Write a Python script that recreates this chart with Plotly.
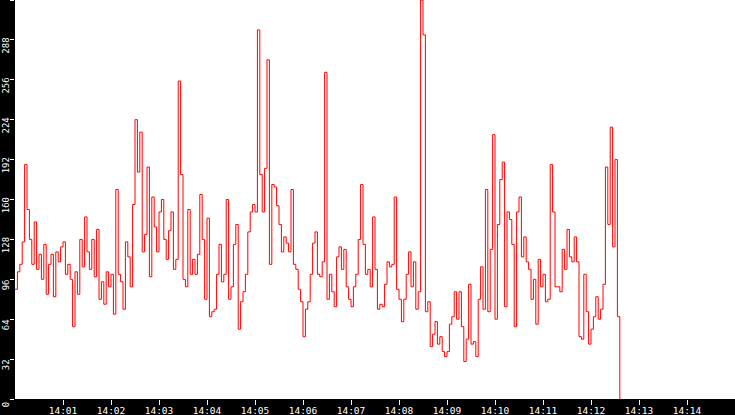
import numpy as np
import pandas as pd
import plotly.graph_objects as go

# one sample every 3 s, starting 14:00:00; one list per minute
m00 = [88, 102, 108, 126, 188, 152, 128, 108, 142, 104, 116, 96, 124, 84, 108, 116, 82, 118, 110, 122]
m01 = [126, 100, 108, 96, 58, 102, 84, 128, 106, 146, 118, 104, 128, 98, 136, 80, 94, 76, 102, 90]
m02 = [100, 68, 168, 100, 94, 72, 126, 114, 90, 156, 224, 182, 214, 118, 132, 186, 98, 162, 138, 118]
m03 = [150, 160, 128, 112, 135, 150, 104, 112, 255, 180, 96, 90, 152, 100, 112, 100, 116, 164, 128, 80]
m04 = [145, 66, 70, 72, 100, 124, 94, 100, 160, 80, 90, 124, 140, 56, 78, 86, 100, 134, 150, 156]
m05 = [150, 296, 180, 150, 185, 272, 108, 172, 170, 155, 140, 118, 130, 125, 118, 168, 108, 104, 88, 78]
m06 = [50, 72, 78, 100, 125, 134, 100, 98, 110, 262, 80, 100, 86, 74, 114, 122, 104, 120, 90, 80]
m07 = [74, 90, 100, 128, 172, 124, 100, 104, 90, 146, 104, 72, 76, 74, 92, 110, 106, 108, 162, 88]
m08 = [80, 62, 80, 100, 118, 90, 110, 72, 86, 320, 292, 70, 78, 42, 52, 62, 44, 50, 38, 34]
m09 = [38, 60, 66, 86, 64, 86, 58, 30, 48, 92, 44, 46, 34, 80, 106, 72, 168, 70, 120, 212]
m10 = [64, 140, 176, 190, 74, 150, 144, 124, 58, 150, 162, 114, 130, 110, 104, 80, 96, 60, 112, 90]
m11 = [100, 78, 80, 188, 150, 90, 90, 86, 120, 104, 136, 114, 110, 130, 110, 50, 48, 100, 70, 44]
m12 = [56, 66, 82, 64, 72, 92, 186, 140, 218, 122, 192, 66, 0]

values = m00 + m01 + m02 + m03 + m04 + m05 + m06 + m07 + m08 + m09 + m10 + m11 + m12
times = pd.date_range("2024-01-01 14:00:00", periods=len(values), freq="3s")

y_ticks = list(range(0, 321, 32))
x_ticks = pd.date_range("2024-01-01 14:01:00", "2024-01-01 14:14:00", freq="1min")

fig = go.Figure(go.Scatter(
    x=times, y=values,
    mode="lines",
    line=dict(color="#ff0000", width=1, shape="hv"),
    hoverinfo="skip",
))

fig.update_layout(
    width=735, height=415,
    margin=dict(l=15, r=0, t=0, b=16),
    paper_bgcolor="black",
    plot_bgcolor="white",
    showlegend=False,
    font=dict(family="DejaVu Sans Mono", size=9, color="white"),
)
fig.update_xaxes(
    range=["2024-01-01 14:00:00", "2024-01-01 14:15:00"],
    tickvals=x_ticks, tickformat="%H:%M",
    ticks="outside", ticklen=5, tickcolor="white", tickwidth=1,
    ticklabelstandoff=-2,
    showgrid=False, zeroline=False, showline=False, automargin=False,
    tickfont=dict(size=9.5, color="white"),
)
fig.update_yaxes(
    range=[0, 320],
    tickvals=y_ticks,
    ticks="outside", ticklen=4, tickcolor="white", tickwidth=1,
    tickangle=-90, ticklabelshift=7, ticklabelstandoff=-3,
    showgrid=False, zeroline=False, showline=False, automargin=False,
    tickfont=dict(size=9, color="white"),
)

# drop the browser's default page margin so the chart sits at the corner
fig.write_html("out.html", config={"displayModeBar": False},
               post_script="document.body.style.margin='0';")
